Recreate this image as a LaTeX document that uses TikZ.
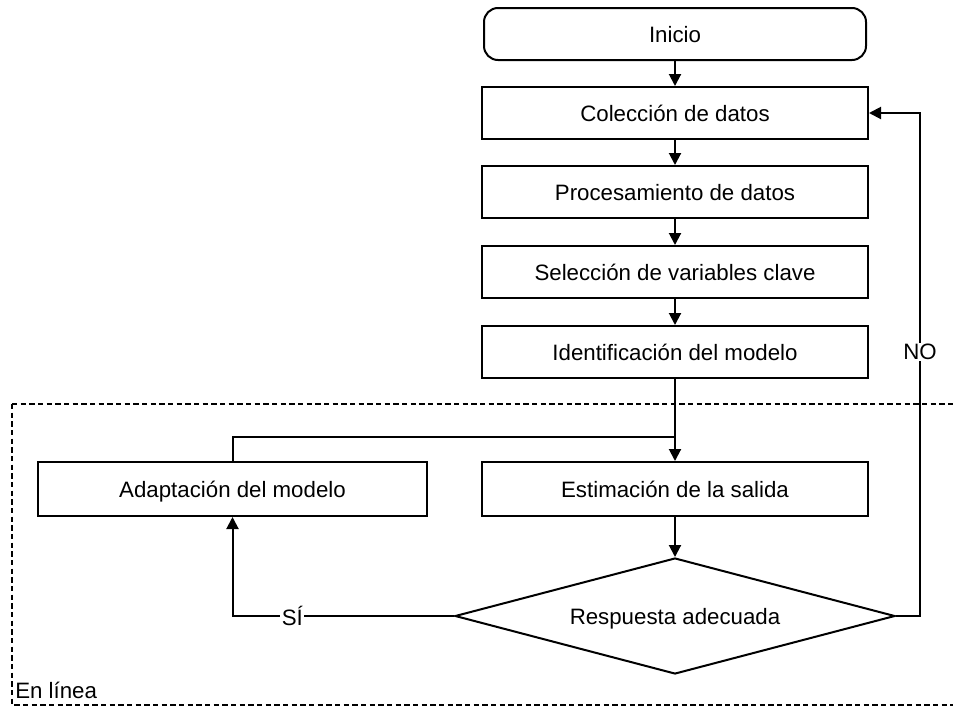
\documentclass[tikz,border=0pt]{standalone}
\usepackage{fontspec}
\setmainfont{Liberation Sans}
\usetikzlibrary{shapes.geometric,arrows.meta}
\begin{document}
\begin{tikzpicture}[x=0.75pt,y=-0.75pt,
  every node/.style={font=\fontsize{16.7}{20}\selectfont},
  procbox/.style={draw,line width=1.5pt,minimum width=386*0.75pt,minimum height=52*0.75pt,inner sep=0pt,text height=12.2pt,text depth=0pt},
  termbox/.style={procbox,rounded corners=14*0.75pt,minimum width=382*0.75pt},
  decis/.style={draw,line width=1.5pt,diamond,aspect=3.8,minimum width=440*0.75pt,minimum height=116*0.75pt,inner sep=0pt,text height=12.2pt,text depth=0pt},
  conn/.style={line width=1.5pt},
  arr/.style={conn,-{Triangle[length=9pt,width=9pt]}},
  lbl/.style={fill=white,inner sep=1pt},
  region/.style={line width=1.5pt,dash pattern=on 4pt off 2.5pt}]
\clip (0,0) rectangle (953,707);
\useasboundingbox (0,0) rectangle (953,707);
\draw[region] (12,404) -- (960,404) (12,404) -- (12,705) -- (960,705);
\node[anchor=west,inner sep=0pt] (enl) at (15,690) {En línea};

\node[termbox] (ini) at (675,34) {Inicio};
\node[procbox] (col) at (675,113) {Colección de datos};
\node[procbox] (pro) at (675,192) {Procesamiento de datos};
\node[procbox] (sel) at (675,272) {Selección de variables clave};
\node[procbox] (ide) at (675,352) {Identificación del modelo};
\node[procbox,minimum width=389*0.75pt,minimum height=54*0.75pt] (ada) at (232.5,489) {Adaptación del modelo};
\node[procbox,minimum height=54*0.75pt] (est) at (675,489) {Estimación de la salida};
\node[decis] (dec) at (675,616) {Respuesta adecuada};

\coordinate (j1) at (675,437);
\coordinate (j2) at (920,616);

\draw[arr] (ini) -- (col);
\draw[arr] (col) -- (pro);
\draw[arr] (pro) -- (sel);
\draw[arr] (sel) -- (ide);
\draw[arr] (ide) -- (est);
\draw[conn] (ada.north) |- (j1);
\draw[arr] (est) -- (dec);
\draw[arr] (dec.west) -| node[pos=0.365,lbl] (si) {SÍ} (ada.south);
\draw[arr] (dec.east) -- (j2) |- node[pos=0.2625,lbl] (no) {NO} (col.east);
\end{tikzpicture}
\end{document}
